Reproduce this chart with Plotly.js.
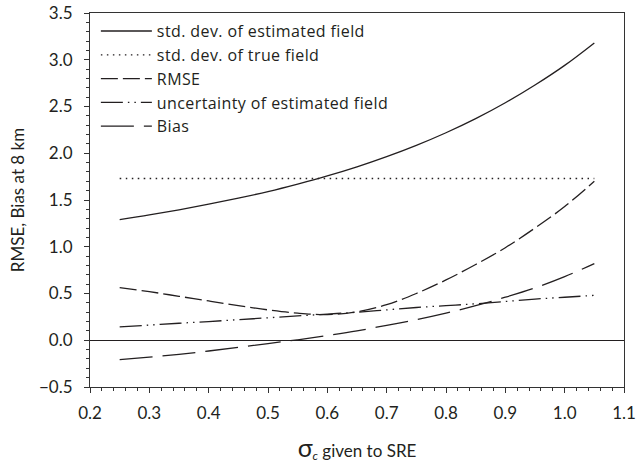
<!DOCTYPE html>
<html><head><meta charset="utf-8">
<script src="https://cdn.plot.ly/plotly-3.0.1.min.js"></script>
<style>body{margin:0;background:#fff} .legendtext{letter-spacing:0.4px}</style>
</head><body><div id="chart" style="width:636px;height:468px"></div>
<script>
const sigmaC       = [0.25, 0.30, 0.35, 0.40, 0.45, 0.50, 0.55, 0.60, 0.65, 0.70, 0.75, 0.80, 0.85, 0.90, 0.95, 1.00, 1.05];
const stdEstimated = [1.29, 1.34, 1.395, 1.455, 1.52, 1.59, 1.67, 1.757, 1.854, 1.963, 2.084, 2.219, 2.37, 2.54, 2.73, 2.94, 3.18];
const stdTrue      = [1.73, 1.73, 1.73, 1.73, 1.73, 1.73, 1.73, 1.73, 1.73, 1.73, 1.73, 1.73, 1.73, 1.73, 1.73, 1.73, 1.73];
const rmse         = [0.564, 0.52, 0.47, 0.42, 0.37, 0.325, 0.29, 0.275, 0.305, 0.38, 0.50, 0.645, 0.81, 0.99, 1.20, 1.43, 1.70];
const uncertainty  = [0.142, 0.162, 0.182, 0.20, 0.22, 0.24, 0.26, 0.28, 0.30, 0.325, 0.35, 0.37, 0.39, 0.415, 0.44, 0.46, 0.48];
const bias         = [-0.207, -0.18, -0.15, -0.115, -0.075, -0.035, 0.005, 0.05, 0.10, 0.16, 0.22, 0.29, 0.37, 0.46, 0.56, 0.68, 0.82];
const seriesNames  = ["std. dev. of estimated field", "std. dev. of true field", "RMSE", "uncertainty of estimated field", "Bias"];

const ink = '#231f20';
const font = 'Lato, "Open Sans", sans-serif';
const legendFont = '"Open Sans", Lato, sans-serif';
function tr(y, name, dash) {
  return {x: sigmaC, y: y, name: name, type: 'scatter', mode: 'lines',
          line: {color: ink, width: 1.3, dash: dash, shape: 'spline'}};
}
const data = [
  tr(stdEstimated, seriesNames[0], 'solid'),
  tr(stdTrue, seriesNames[1], '1.5px,4.5px'),
  tr(rmse, seriesNames[2], '17px,5px'),
  tr(uncertainty, seriesNames[3], '22px,5px,1.5px,5px,1.5px,5px'),
  tr(bias, seriesNames[4], '33px,10px')
];
const axisCommon = {
  showgrid: false, showline: true, linecolor: '#333', linewidth: 1, mirror: true,
  ticks: 'outside', ticklen: 5, tickwidth: 1, tickcolor: '#333',
  tickfont: {family: font, size: 17, color: ink}, tickformat: '.1f'
};
const layout = {
  width: 636, height: 468,
  margin: {l: 90, r: 12, t: 13, b: 81},
  paper_bgcolor: '#fff', plot_bgcolor: '#fff',
  font: {family: font, color: ink},
  showlegend: true,
  legend: {x: 0.011, y: 0.997, xanchor: 'left', yanchor: 'top', bgcolor: 'rgba(0,0,0,0)',
           font: {family: legendFont, size: 16, color: ink}, itemwidth: 51, tracegroupgap: 0},
  xaxis: Object.assign({}, axisCommon, {
    range: [0.2, 1.1], dtick: 0.1, tick0: 0.2, ticklabelstandoff: 6,
    minor: {dtick: 0.02, ticklen: 3, tickwidth: 1, tickcolor: '#333', ticks: 'outside'},
    zeroline: false,
    title: {text: '<span style="font-size:25px">σ</span><sub><i>c</i></sub> given to SRE',
            font: {family: font, size: 17, color: ink}, standoff: 22}
  }),
  yaxis: Object.assign({}, axisCommon, {
    range: [-0.5, 3.5], dtick: 0.5, tick0: 0, ticklabelstandoff: 8,
    minor: {dtick: 0.1, ticklen: 3, tickwidth: 1, tickcolor: '#333', ticks: 'outside'},
    zeroline: true, zerolinecolor: ink, zerolinewidth: 1,
    title: {text: 'RMSE, Bias at 8 km', font: {family: font, size: 17, color: ink}, standoff: 10}
  })
};
Plotly.newPlot('chart', data, layout, {displayModeBar: false, staticPlot: true});
</script></body></html>
